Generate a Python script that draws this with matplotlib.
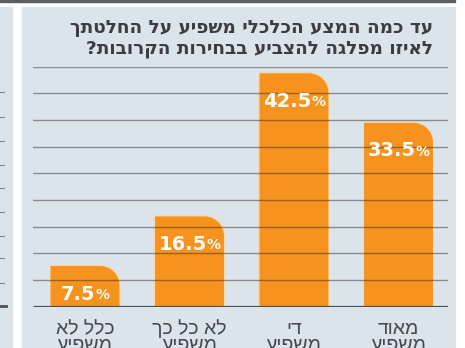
import numpy as np
import matplotlib
matplotlib.use('Agg')
import matplotlib.pyplot as plt
from matplotlib.patches import Rectangle, PathPatch
from matplotlib.path import Path
from matplotlib.lines import Line2D

# survey results (percent), left to right
cats_top = ['כלל לא', 'לא כל כך', 'די', 'מאוד']
cats_bottom = ['משפיע', 'משפיע', 'משפיע', 'משפיע']
values = [7.5, 16.5, 42.5, 33.5]
title_lines = ['עד כמה המצע הכלכלי משפיע על החלטתך',
               'לאיזו מפלגה להצביע בבחירות הקרובות?']

BG = '#dbe4eb'
ORANGE = '#f6921e'
DARK = '#3b3d40'


def rtl(s):
    # matplotlib lays glyphs out left to right, so flip hebrew strings
    return s[::-1]


W, H = 465, 348
fig = plt.figure(figsize=(W / 100, H / 100), dpi=100, facecolor='white')

# panel backgrounds and the strip of the neighbouring chart
fig.patches.append(Rectangle((0, 0), 12 / W, 1 - 7 / H, transform=fig.transFigure, color=BG, zorder=-2))
fig.patches.append(Rectangle((22 / W, 0), 433 / W, 1 - 7 / H, transform=fig.transFigure, color=BG, zorder=-2))
fig.patches.append(Rectangle((0, 1 - 2 / H), 455 / W, 2 / H, transform=fig.transFigure, color='#5b5f63', zorder=-2))
for yy in [92, 117, 141, 165, 188, 212, 236, 258, 283]:
    fig.lines.append(Line2D([0, 4 / W], [1 - yy / H] * 2, transform=fig.transFigure, color='#7a838b', lw=0.8, zorder=-1))
fig.lines.append(Line2D([0, 6 / W], [1 - 306 / H] * 2, transform=fig.transFigure, color='#4b5056', lw=2, zorder=-1))

# title, right aligned
fig.text(433 / W, 1 - 33 / H, rtl(title_lines[0]), family='DejaVu Sans', weight='bold',
         fontsize=13.3, color=DARK, ha='right', va='baseline')
fig.text(433 / W, 1 - 53 / H, rtl(title_lines[1]), family='DejaVu Sans', weight='bold',
         fontsize=13.3, color=DARK, ha='right', va='baseline')

ax = fig.add_axes([33 / W, (H - 306.7) / H, 415 / W, 240 / H])
ax.set_facecolor('none')
ymax = 43.6
ax.set_xlim(-0.498, 3.474)
ax.set_ylim(0, ymax)
ax.axis('off')

x = np.arange(len(values))
bar_w = 0.67
# corner radius of 20px expressed in data units
rx = 20 * (3.474 + 0.498) / 415
ry = 20 * ymax / 240
k = 0.5523
for xi, v in zip(x, values):
    x0, x1 = xi - bar_w / 2, xi + bar_w / 2
    verts = [(x0, 0), (x0, v), (x1 - rx, v),
             (x1 - rx * (1 - k), v), (x1, v - ry * (1 - k)), (x1, v - ry),
             (x1, 0), (x0, 0)]
    codes = [Path.MOVETO, Path.LINETO, Path.LINETO,
             Path.CURVE4, Path.CURVE4, Path.CURVE4,
             Path.LINETO, Path.CLOSEPOLY]
    ax.add_patch(PathPatch(Path(verts, codes), facecolor=ORANGE, edgecolor='#fbd9a8', lw=0.8, zorder=2))

# grid lines sit on top of the bars
for gy in np.linspace(0, ymax, 10)[1:]:
    ax.axhline(gy, color='#3a3230', alpha=0.5, lw=1, zorder=3)
ax.axhline(0, color='#4b5056', lw=2.3, zorder=4, solid_capstyle='butt')

for xi, v in zip(x, values):
    num = ax.annotate(f'{v:.1f}', xy=(xi, v - 5.2), xytext=(-5, 0), textcoords='offset points',
                      ha='center', va='center', color='white', family='DejaVu Sans',
                      weight='bold', fontsize=14, zorder=5)
    ax.annotate('%', xy=(1, 0.08), xycoords=num, ha='left', va='bottom', color='white',
                family='DejaVu Sans', weight='bold', fontsize=10, zorder=5)

for xi, t, b in zip(x, cats_top, cats_bottom):
    ax.annotate(rtl(t), xy=(xi, 0), xytext=(0, -19.5), textcoords='offset points', ha='center',
                va='baseline', family='Liberation Sans', fontsize=14, color='#46484b')
    ax.annotate(rtl(b), xy=(xi, 0), xytext=(0, -31), textcoords='offset points', ha='center',
                va='baseline', family='Liberation Sans', fontsize=14, color='#46484b')

fig.savefig('out.png', dpi=100, facecolor='white')
